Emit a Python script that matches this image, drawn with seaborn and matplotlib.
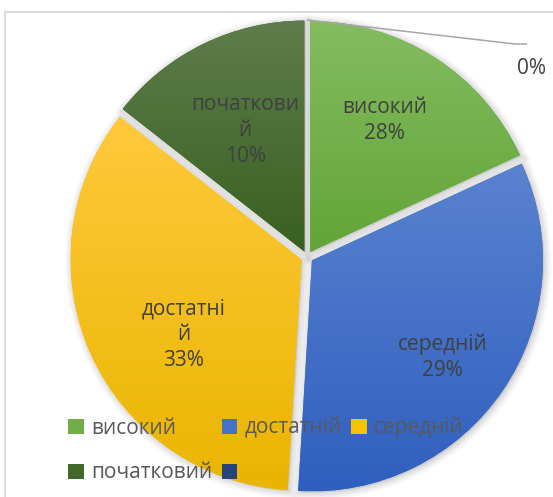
import numpy as np
import matplotlib
matplotlib.use("Agg")
import matplotlib.pyplot as plt
import seaborn as sns
from matplotlib.patches import Patch, Wedge
from matplotlib.colors import to_rgb

# Назви в легенді (порядок як у Excel)
legend_names = ["високий", "достатній", "середній", "початковий", ""]
# Підписи всередині секторів
slice_names = ["високий", "середній", "достатні\nй", "початкови\nй", ""]
pct_labels = ["28%", "29%", "33%", "10%", "0%"]
# Частки секторів так, як вони намальовані (оцінка за кутами)
slice_share = [18.1, 32.8, 34.6, 14.4, 0.0]

# Кольори: градієнт зверху вниз
top_colors = ["#84bc60", "#5a82cf", "#ffc93c", "#5e7d4c", "#2f4d8a"]
bottom_colors = ["#62a537", "#2f5fbf", "#eab500", "#38601f", "#1f3864"]
legend_colors = ["#70ad47", "#4472c4", "#ffc000", "#43682b", "#264478"]

# Розташування підписів: частка радіуса та зсув кута
label_r = [0.68, 0.73, 0.63, 0.61]
label_shift = [3, -2, 8, 0]

sns.set_theme(style="white")
plt.rcParams["font.family"] = ["Open Sans", "DejaVu Sans"]

W, H = 553, 497
fig = plt.figure(figsize=(W / 100, H / 100), dpi=100)
ax = fig.add_axes([0, 0, 1, 1])

cx, cy, R = 307, H - 257, 231
wedges, _ = ax.pie(slice_share, radius=R, center=(cx, cy), startangle=90,
                   counterclock=False, explode=[6] * len(slice_share),
                   colors=legend_colors, frame=True,
                   wedgeprops=dict(linewidth=0, zorder=2))

# Тіні та градієнтна заливка
for i, w in enumerate(wedges):
    if slice_share[i] == 0:
        continue
    for lw, a in [(10, 0.05), (7, 0.07), (4, 0.10)]:
        sh = Wedge((w.center[0] + 1.5, w.center[1] - 1.5), w.r, w.theta1, w.theta2,
                   facecolor="#808080", edgecolor="#808080", linewidth=lw,
                   alpha=a, zorder=1)
        ax.add_patch(sh)
    bb = w.get_path().get_extents()
    t = np.linspace(0, 1, 256)[:, None, None]
    c0 = np.array(to_rgb(top_colors[i]))[None, None, :]
    c1 = np.array(to_rgb(bottom_colors[i]))[None, None, :]
    img = c0 * (1 - t) + c1 * t
    im = ax.imshow(img, extent=(bb.x0, bb.x1, bb.y0, bb.y1), origin="upper",
                   aspect="auto", zorder=3, interpolation="bilinear")
    im.set_clip_path(w)

# Підписи секторів
for i, w in enumerate(wedges[:4]):
    th = np.radians((w.theta1 + w.theta2) / 2 + label_shift[i])
    x = cx + label_r[i] * R * np.cos(th)
    y = cy + label_r[i] * R * np.sin(th)
    ax.text(x, y, f"{slice_names[i]}\n{pct_labels[i]}", ha="center", va="center",
            fontsize=15, color="#404040", linespacing=1.3, zorder=5)

# Виноска для 0%
w0 = wedges[4]
sx = w0.center[0] + R * np.cos(np.radians(w0.theta1))
sy = w0.center[1] + R * np.sin(np.radians(w0.theta1))
ax.plot([sx, 515, 527], [sy, H - 44, H - 44], color="#a6a6a6", lw=1.1,
        zorder=4, solid_capstyle="butt")
ax.text(531, H - 68, pct_labels[4], ha="center", va="center", fontsize=15,
        color="#404040", zorder=5)

# Рамка області діаграми
ax.plot([5, 5], [0, H - 12], color="#d9d9d9", lw=1.3, zorder=0, clip_on=False)
ax.plot([5, W], [H - 12, H - 12], color="#d9d9d9", lw=1.3, zorder=0, clip_on=False)

ax.set_xlim(0, W)
ax.set_ylim(0, H)
ax.set_aspect("auto")
ax.axis("off")

# Легенда (рядками, як у Excel)
order = [0, 3, 1, 4, 2]
handles = [Patch(facecolor=legend_colors[k], edgecolor="none") for k in order]
labels = [legend_names[k] for k in order]
leg = fig.legend(handles, labels, ncol=3, loc="upper left",
                 bbox_to_anchor=(68 / W, 1 - 417 / H), frameon=False,
                 fontsize=15, handlelength=0.75, handleheight=0.75,
                 handletextpad=0.35, columnspacing=0.45, labelspacing=1.15,
                 borderpad=0, borderaxespad=0, labelcolor="#595959")
leg.set_zorder(10)

fig.savefig("out.png", dpi=100)
